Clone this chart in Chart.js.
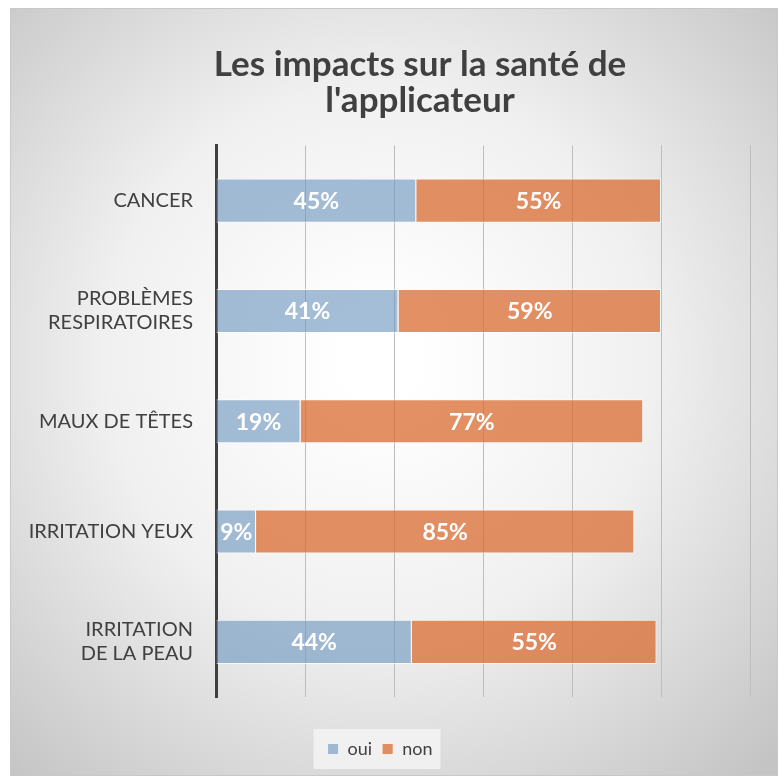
<!DOCTYPE html>
<html>
<head>
<meta charset="utf-8">
<script src="https://cdn.jsdelivr.net/npm/chart.js@4"></script>
<style>
  html, body { margin: 0; padding: 0; background: #fff; }
  #box { width: 778px; height: 778px; }
</style>
</head>
<body>
<div id="box"><canvas id="myChart"></canvas></div>
<script>
var categories = [['CANCER'], ['PROBLÈMES', 'RESPIRATOIRES'], ['MAUX DE TÊTES'], ['IRRITATION YEUX'], ['IRRITATION', 'DE LA PEAU']];
var oui = [45, 41, 19, 9, 44];
var non = [55, 59, 77, 85, 55];
var xTicks = [0, 20, 40, 60, 80, 100, 120];

// fond gris dégradé + cadre
var fond = {
    id: 'fond',
    afterLayout: function(chart)
    {
        // titre décalé vers la droite comme dans l'original
        if (chart.titleBlock) { chart.titleBlock.left += 80; }
    },
    beforeDraw: function(chart)
    {
        var ctx = chart.ctx;
        ctx.save();
        var g = ctx.createRadialGradient(380, 360, 40, 380, 360, 560);
        g.addColorStop(0, '#ffffff');
        g.addColorStop(0.45, '#f0f0f0');
        g.addColorStop(1, '#c4c4c4');
        ctx.fillStyle = g;
        ctx.fillRect(10, 8, 768, 768);
        ctx.strokeStyle = '#c8c8c8';
        ctx.lineWidth = 1;
        ctx.strokeRect(10.5, 8.5, 767, 767);
        // cadre de la légende
        var lg = chart.legend;
        if (lg && lg.legendHitBoxes && lg.legendHitBoxes.length)
        {
            var hb = lg.legendHitBoxes;
            var x0 = hb[0].left - 14, x1 = hb[hb.length - 1].left + hb[hb.length - 1].width + 8;
            ctx.fillStyle = 'rgba(245,245,245,0.8)';
            ctx.fillRect(x0, hb[0].top - 11, x1 - x0, hb[0].height + 22);
        }
        ctx.restore();
    }
};

// pourcentages au centre des barres
var etiquettes = {
    id: 'etiquettes',
    afterDatasetsDraw: function(chart)
    {
        var ctx = chart.ctx;
        ctx.save();
        ctx.font = 'bold 23px Lato';
        ctx.fillStyle = '#ffffff';
        ctx.textAlign = 'center';
        ctx.textBaseline = 'middle';
        chart.data.datasets.forEach(function(ds, i)
        {
            chart.getDatasetMeta(i).data.forEach(function(bar, j)
            {
                var x = (bar.x + bar.base) / 2;
                ctx.fillText(ds.data[j] + '%', x, bar.y + 1);
            });
        });
        ctx.restore();
    }
};

var ctx = document.getElementById('myChart').getContext('2d');
var myChart = new Chart(ctx, {
    type: 'bar',
    data: {
        labels: categories,
        datasets: [
        {
            label: 'oui',
            data: oui,
            backgroundColor: 'rgba(110,150,190,0.62)',
            borderColor: 'rgba(255,255,255,0.7)',
            borderWidth: 1,
            categoryPercentage: 0.4,
            barPercentage: 1
        },
        {
            label: 'non',
            data: non,
            backgroundColor: 'rgba(218,108,48,0.75)',
            borderColor: 'rgba(255,255,255,0.7)',
            borderWidth: 1,
            categoryPercentage: 0.4,
            barPercentage: 1
        }
        ]
    },
    options: {
        indexAxis: 'y',
        responsive: true,
        maintainAspectRatio: false,
        animation: false,
        layout: { padding: { left: 10, right: 28, top: 30, bottom: 10 } },
        plugins: {
            title: {
                display: true,
                text: ['Les impacts sur la santé de', "l'applicateur"],
                color: '#404040',
                font: { family: 'Lato', size: 35, weight: 'bold', lineHeight: 1.05 },
                padding: { top: 16, bottom: 26 }
            },
            legend: {
                position: 'bottom',
                labels: {
                    color: '#404040',
                    font: { family: 'Lato', size: 18 },
                    boxWidth: 11,
                    boxHeight: 11,
                    padding: 10
                }
            },
            tooltip: { enabled: false }
        },
        scales: {
            x: {
                stacked: true,
                min: xTicks[0],
                max: xTicks[xTicks.length - 1],
                afterBuildTicks: function(scale) { scale.ticks = xTicks.map(function(v) { return { value: v }; }); },
                afterFit: function(scale) { scale.height = 33; },
                ticks: { display: false },
                grid: { color: '#bdbdbd', lineWidth: 1, drawTicks: false },
                border: { display: false }
            },
            y: {
                stacked: true,
                afterFit: function(scale) { scale.width = 206; },
                ticks: {
                    color: '#404040',
                    font: { family: 'Lato', size: 20 },
                    padding: 15
                },
                grid: { display: false },
                border: { display: true, color: '#404040', width: 3 }
            }
        }
    },
    plugins: [fond, etiquettes]
});
</script>
</body>
</html>
